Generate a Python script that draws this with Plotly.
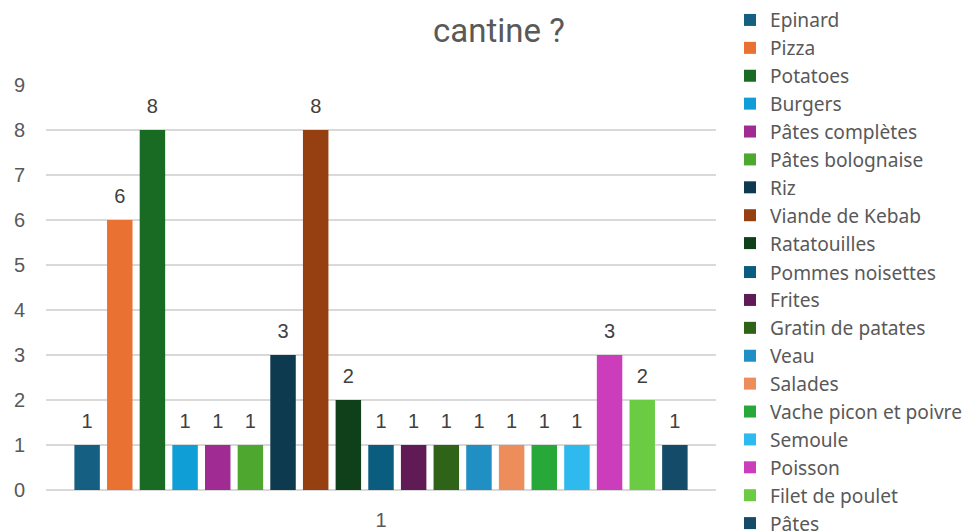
import plotly.graph_objects as go

categories = ["1"]
series_names = [
    "Epinard", "Pizza", "Potatoes", "Burgers", "Pâtes complètes",
    "Pâtes bolognaise", "Riz", "Viande de Kebab", "Ratatouilles",
    "Pommes noisettes", "Frites", "Gratin de patates", "Veau", "Salades",
    "Vache picon et poivre", "Semoule", "Poisson", "Filet de poulet", "Pâtes",
]
series_values = [1, 6, 8, 1, 1, 1, 3, 8, 2, 1, 1, 1, 1, 1, 1, 1, 3, 2, 1]
series_colors = [
    "#156082", "#E97132", "#196B24", "#0F9ED5", "#A02B93", "#4EA72E",
    "#0E3A4F", "#963F11", "#10401A", "#0B5D80", "#601A55", "#2F6418",
    "#1F8FC4", "#ED8D5B", "#29A83A", "#2EBAEE", "#CB3DBA", "#6BCC44",
    "#144B68",
]
title_line1 = "Quel est le plat préféré de plusieurs élèves à la"
title_line2 = "cantine ?"

W, H = 972, 531
# plot-area pixel box
PX0, PX1, PY0, PY1 = 46, 716, 85, 490
ITEM_H = 27.9

def px(x):
    return x / W

def py(y):
    return 1 - y / H

label_font = dict(family="Liberation Sans, Arial", size=20, color="#404040")
tick_font = dict(family="Liberation Sans, Arial", size=20, color="#595959")
legend_font = dict(family="Noto Sans, Open Sans", size=19.15, color="#595959")
title_font = dict(family="Roboto", size=33, color="#595959")

fig = go.Figure()
n_first = 9
for i, (name, val, col) in enumerate(zip(series_names, series_values, series_colors)):
    grp = f"g{i}"
    fig.add_trace(go.Bar(
        name=name, x=categories, y=[val], marker_color=col,
        marker_line_width=0, offsetgroup=grp,
        legend="legend" if i < n_first else "legend2",
        hoverinfo="name+y",
    ))
    fig.add_trace(go.Scatter(
        x=categories, y=[val], mode="markers+text", text=[str(val)],
        textposition="top center", textfont=label_font,
        marker=dict(size=17, opacity=0), offsetgroup=grp,
        showlegend=False, hoverinfo="skip", cliponaxis=False,
    ))

leg_common = dict(
    xref="paper", yref="paper", xanchor="left", yanchor="top",
    font=legend_font, bgcolor="rgba(0,0,0,0)", borderwidth=0,
    tracegroupgap=0, itemclick=False, itemdoubleclick=False,
)

fig.update_layout(
    width=W, height=H,
    margin=dict(l=0, r=0, t=0, b=0, pad=0, autoexpand=False),
    paper_bgcolor="white", plot_bgcolor="white",
    barmode="group", bargap=0.074, bargroupgap=0.22,
    scattermode="group", scattergap=0.074,
    showlegend=True,
    legend=dict(x=px(730), y=py(1), **leg_common),
    legend2=dict(x=px(730), y=py(1 + n_first * ITEM_H + 1), **leg_common),
    xaxis=dict(
        domain=[px(PX0), px(PX1)],
        showgrid=False, showline=False, zeroline=False, ticks="",
        tickfont=tick_font, ticklabelstandoff=16,
    ),
    yaxis=dict(
        domain=[py(PY1), py(PY0)],
        range=[0, 9], dtick=1, tick0=0,
        showgrid=True, gridcolor="#D9D9D9", gridwidth=1.5,
        zeroline=True, zerolinecolor="#D9D9D9", zerolinewidth=1.5,
        showline=False, ticks="",
        tickfont=tick_font, ticklabelstandoff=20,
    ),
    annotations=[
        dict(text=title_line2, xref="paper", yref="paper",
             x=px(499), y=py(31), xanchor="center", yanchor="middle",
             showarrow=False, font=title_font),
        dict(text=title_line1, xref="paper", yref="paper",
             x=px(499), y=py(-22), xanchor="center", yanchor="middle",
             showarrow=False, font=title_font),
    ],
)

fig.write_html(
    "out.html",
    config={"displayModeBar": False},
    post_script="document.body.style.margin='0';document.body.style.overflow='hidden';",
)
